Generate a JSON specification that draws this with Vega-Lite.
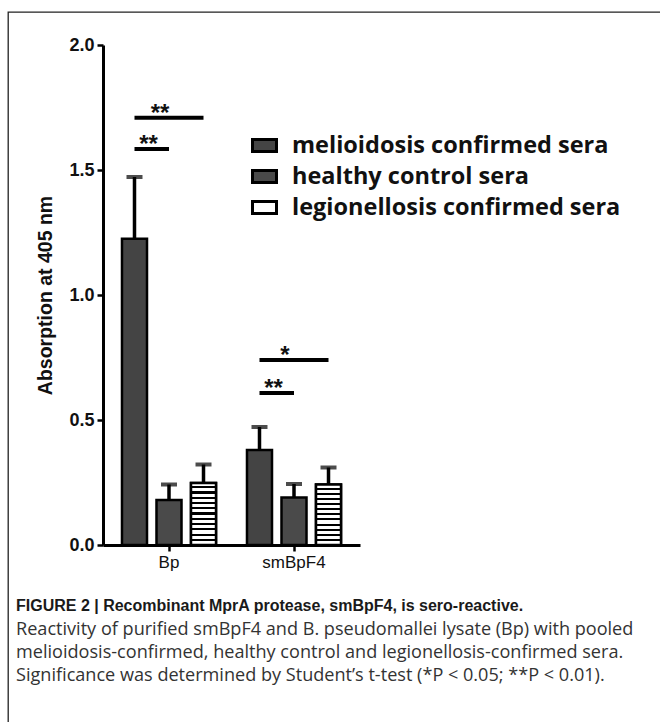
{
  "$schema": "https://vega.github.io/schema/vega-lite/v6.json",
  "width": 660,
  "height": 722,
  "autosize": {"type": "none"},
  "padding": {"left": 8, "top": 12, "right": 0, "bottom": 0},
  "background": "white",
  "config": {
    "view": {"stroke": "#222", "strokeWidth": 1.3},
    "font": "Liberation Sans"
  },
  "title": {
    "text": "FIGURE 2 | Recombinant MprA protease, smBpF4, is sero-reactive.",
    "subtitle": [
      "Reactivity of purified smBpF4 and B. pseudomallei lysate (Bp) with pooled",
      "melioidosis-confirmed, healthy control and legionellosis-confirmed sera.",
      "Significance was determined by Student’s t-test (*P < 0.05; **P < 0.01)."
    ],
    "orient": "bottom",
    "anchor": "start",
    "frame": "group",
    "offset": -136,
    "dx": 8,
    "font": "Liberation Sans",
    "fontSize": 16,
    "fontWeight": "bold",
    "color": "#1a1a1a",
    "subtitleFont": "Open Sans",
    "subtitleFontSize": 18.1,
    "subtitleColor": "#333333",
    "subtitleLineHeight": 23,
    "subtitlePadding": 7
  },
  "datasets": {
    "bars": [
      {"group": "Bp", "series": "melioidosis confirmed sera", "value": 1.225, "upper": 1.472},
      {"group": "Bp", "series": "healthy control sera", "value": 0.18, "upper": 0.242},
      {"group": "Bp", "series": "legionellosis confirmed sera", "value": 0.248, "upper": 0.322},
      {"group": "smBpF4", "series": "melioidosis confirmed sera", "value": 0.38, "upper": 0.472},
      {"group": "smBpF4", "series": "healthy control sera", "value": 0.19, "upper": 0.244},
      {"group": "smBpF4", "series": "legionellosis confirmed sera", "value": 0.242, "upper": 0.31}
    ],
    "sig": [
      {"group": "Bp", "pair": "Bp-a", "series": "melioidosis confirmed sera", "level": 1.584},
      {"group": "Bp", "pair": "Bp-a", "series": "healthy control sera", "level": 1.584},
      {"group": "Bp", "pair": "Bp-b", "series": "melioidosis confirmed sera", "level": 1.709},
      {"group": "Bp", "pair": "Bp-b", "series": "legionellosis confirmed sera", "level": 1.709},
      {"group": "smBpF4", "pair": "sm-a", "series": "melioidosis confirmed sera", "level": 0.608},
      {"group": "smBpF4", "pair": "sm-a", "series": "healthy control sera", "level": 0.608},
      {"group": "smBpF4", "pair": "sm-b", "series": "melioidosis confirmed sera", "level": 0.74},
      {"group": "smBpF4", "pair": "sm-b", "series": "legionellosis confirmed sera", "level": 0.74}
    ],
    "stars": [
      {"group": "Bp", "kind": "lower", "series": "melioidosis confirmed sera", "level": 1.584, "label": "**"},
      {"group": "Bp", "kind": "upper", "series": "healthy control sera", "level": 1.709, "label": "**"},
      {"group": "smBpF4", "kind": "lower", "series": "melioidosis confirmed sera", "level": 0.608, "label": "**"},
      {"group": "smBpF4", "kind": "upper", "series": "healthy control sera", "level": 0.74, "label": "*"}
    ]
  },
  "encoding": {
    "x": {
      "field": "group",
      "type": "nominal",
      "sort": ["Bp", "smBpF4"],
      "scale": {"range": [95, 352], "paddingInner": 0.168, "paddingOuter": 0.112},
      "axis": {
        "title": null,
        "offset": -189,
        "labelAngle": 0,
        "labelFontSize": 17,
        "labelColor": "#111",
        "labelPadding": 3,
        "domainColor": "black",
        "domainWidth": 3,
        "tickColor": "black",
        "tickWidth": 2.5,
        "tickSize": 6
      }
    },
    "xOffset": {
      "field": "series",
      "type": "nominal",
      "sort": ["melioidosis confirmed sera", "healthy control sera", "legionellosis confirmed sera"],
      "scale": {"paddingInner": 0.275, "paddingOuter": 0.1445}
    }
  },
  "layer": [
    {
      "data": {"name": "bars"},
      "mark": {"type": "rule", "color": "black", "strokeWidth": 3.5},
      "encoding": {
        "y": {
          "field": "value",
          "type": "quantitative",
          "scale": {"domain": [0, 2], "range": [533, 33], "nice": false},
          "axis": {
            "values": [0, 0.5, 1, 1.5, 2],
            "format": ".1f",
            "offset": -95,
            "grid": false,
            "title": "Absorption at 405 nm",
            "titleFontSize": 19.5,
            "titleFontWeight": "bold",
            "titleColor": "#111",
            "titlePadding": 13,
            "labelFontSize": 18,
            "labelFontWeight": "bold",
            "labelColor": "#111",
            "labelPadding": 3,
            "domainColor": "black",
            "domainWidth": 3,
            "tickColor": "black",
            "tickWidth": 2.5,
            "tickSize": 6
          }
        },
        "y2": {"field": "upper"}
      }
    },
    {
      "data": {"name": "bars"},
      "mark": {"type": "bar", "stroke": "black", "strokeWidth": 2.5},
      "encoding": {
        "y": {"field": "value", "type": "quantitative"},
        "fill": {
          "field": "series",
          "type": "nominal",
          "sort": ["melioidosis confirmed sera", "healthy control sera", "legionellosis confirmed sera"],
          "scale": {"range": ["#444444", "#4a4a4a", "#ffffff"]},
          "legend": {
            "title": null,
            "orient": "none",
            "legendX": 243,
            "legendY": 120,
            "symbolType": "M-1,-0.5H1V0.5H-1Z",
            "symbolSize": 576,
            "symbolStrokeColor": "black",
            "symbolStrokeWidth": 3,
            "symbolOpacity": 1,
            "labelFont": "Open Sans",
            "labelFontSize": 23.5,
            "labelFontWeight": "bold",
            "labelColor": "#111",
            "labelOffset": 14,
            "rowPadding": 5,
            "labelLimit": 500
          }
        }
      }
    },
    {
      "data": {"name": "bars"},
      "transform": [{"filter": "datum.series == 'legionellosis confirmed sera'"}],
      "mark": {
        "type": "bar",
        "stroke": "black",
        "strokeWidth": 2.5,
        "fill": {
          "gradient": "linear",
          "x1": 0, "y1": 0, "x2": 0, "y2": 1,
          "stops": [
            {"offset": 0, "color": "white"}, {"offset": 0.05, "color": "white"}, {"offset": 0.05, "color": "black"}, {"offset": 0.085, "color": "black"},
            {"offset": 0.085, "color": "white"}, {"offset": 0.135, "color": "white"}, {"offset": 0.135, "color": "black"}, {"offset": 0.17, "color": "black"},
            {"offset": 0.17, "color": "white"}, {"offset": 0.22, "color": "white"}, {"offset": 0.22, "color": "black"}, {"offset": 0.255, "color": "black"},
            {"offset": 0.255, "color": "white"}, {"offset": 0.305, "color": "white"}, {"offset": 0.305, "color": "black"}, {"offset": 0.34, "color": "black"},
            {"offset": 0.34, "color": "white"}, {"offset": 0.39, "color": "white"}, {"offset": 0.39, "color": "black"}, {"offset": 0.425, "color": "black"},
            {"offset": 0.425, "color": "white"}, {"offset": 0.475, "color": "white"}, {"offset": 0.475, "color": "black"}, {"offset": 0.51, "color": "black"},
            {"offset": 0.51, "color": "white"}, {"offset": 0.56, "color": "white"}, {"offset": 0.56, "color": "black"}, {"offset": 0.595, "color": "black"},
            {"offset": 0.595, "color": "white"}, {"offset": 0.645, "color": "white"}, {"offset": 0.645, "color": "black"}, {"offset": 0.68, "color": "black"},
            {"offset": 0.68, "color": "white"}, {"offset": 0.73, "color": "white"}, {"offset": 0.73, "color": "black"}, {"offset": 0.765, "color": "black"},
            {"offset": 0.765, "color": "white"}, {"offset": 0.815, "color": "white"}, {"offset": 0.815, "color": "black"}, {"offset": 0.85, "color": "black"},
            {"offset": 0.85, "color": "white"}, {"offset": 0.9, "color": "white"}, {"offset": 0.9, "color": "black"}, {"offset": 0.935, "color": "black"},
            {"offset": 0.935, "color": "white"}, {"offset": 1, "color": "white"}
          ]
        }
      },
      "encoding": {
        "y": {"field": "value", "type": "quantitative"}
      }
    },
    {
      "data": {"name": "bars"},
      "mark": {"type": "tick", "color": "black", "thickness": 4, "size": 16},
      "encoding": {
        "y": {"field": "upper", "type": "quantitative"}
      }
    },
    {
      "data": {"name": "sig"},
      "mark": {"type": "line", "color": "black", "strokeWidth": 4},
      "encoding": {
        "y": {"field": "level", "type": "quantitative"},
        "detail": {"field": "pair"}
      }
    },
    {
      "data": {"name": "stars"},
      "transform": [{"filter": "datum.kind == 'lower'"}],
      "mark": {"type": "text", "fontSize": 24, "fontWeight": "bold", "baseline": "alphabetic", "dy": 3, "dx": 14, "color": "#111"},
      "encoding": {
        "y": {"field": "level", "type": "quantitative"},
        "text": {"field": "label"}
      }
    },
    {
      "data": {"name": "stars"},
      "transform": [{"filter": "datum.kind == 'upper'"}],
      "mark": {"type": "text", "fontSize": 24, "fontWeight": "bold", "baseline": "alphabetic", "dy": 3, "dx": -9, "color": "#111"},
      "encoding": {
        "y": {"field": "level", "type": "quantitative"},
        "text": {"field": "label"}
      }
    }
  ]
}
